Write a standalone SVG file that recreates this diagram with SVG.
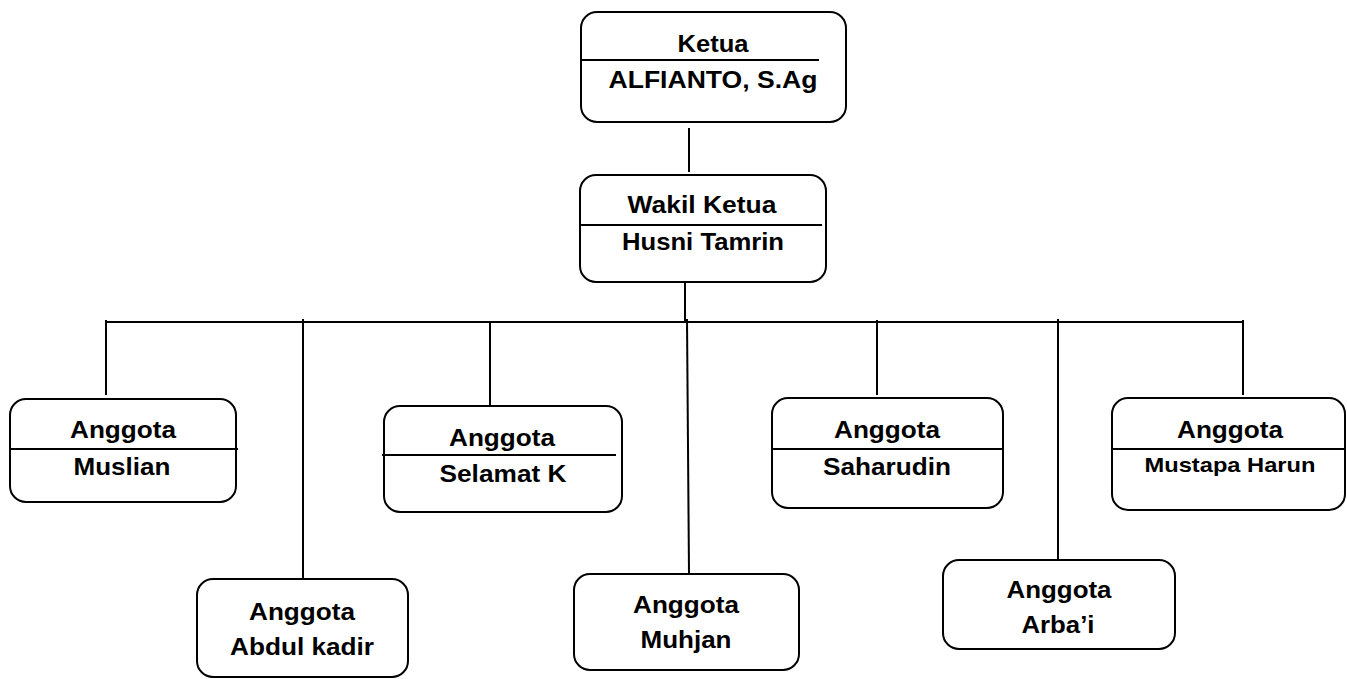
<svg xmlns="http://www.w3.org/2000/svg" width="1347" height="679" viewBox="0 0 1347 679">
<style>
.box{fill:#fff;stroke:#000;stroke-width:2}
.div{stroke:#000;stroke-width:2}
.con{stroke:#000;stroke-width:2;fill:none}
text{font-family:"Liberation Sans",Arial,sans-serif;font-weight:bold;fill:#000;text-anchor:middle}
.t{font-size:23px}
.s{font-size:21px}
</style>
<rect width="1347" height="679" fill="#fff"/>
<g id="connectors">
<line class="con" x1="689" y1="128" x2="689" y2="172"/>
<line class="con" x1="685" y1="278" x2="685" y2="323"/>
<line class="con" x1="105" y1="322" x2="1244" y2="322"/>
<line class="con" x1="106" y1="320" x2="106" y2="395"/>
<line class="con" x1="303" y1="319" x2="303" y2="579"/>
<line class="con" x1="490" y1="321" x2="490" y2="407"/>
<line class="con" x1="687" y1="319" x2="689" y2="574"/>
<line class="con" x1="877" y1="320" x2="877" y2="395"/>
<line class="con" x1="1058" y1="319" x2="1058" y2="560"/>
<line class="con" x1="1243" y1="320" x2="1243" y2="395"/>
</g>
<g id="ketua">
<rect class="box" x="581" y="12" width="265" height="110" rx="16"/>
<line class="div" x1="581" y1="60" x2="819" y2="60"/>
<text class="t" x="713" y="52" textLength="71" lengthAdjust="spacingAndGlyphs">Ketua</text>
<text class="t" x="713" y="88" textLength="209" lengthAdjust="spacingAndGlyphs">ALFIANTO, S.Ag</text>
</g>
<g id="wakil">
<rect class="box" x="580" y="175" width="246" height="107" rx="16"/>
<line class="div" x1="580" y1="225" x2="822" y2="225"/>
<text class="t" x="702" y="213" textLength="149" lengthAdjust="spacingAndGlyphs">Wakil Ketua</text>
<text class="t" x="703" y="250" textLength="162" lengthAdjust="spacingAndGlyphs">Husni Tamrin</text>
</g>
<g id="muslian">
<rect class="box" x="10" y="399" width="226" height="103" rx="16"/>
<line class="div" x1="10" y1="449" x2="238" y2="449"/>
<text class="t" x="123" y="438" textLength="106" lengthAdjust="spacingAndGlyphs">Anggota</text>
<text class="t" x="122" y="475" textLength="97" lengthAdjust="spacingAndGlyphs">Muslian</text>
</g>
<g id="abdul">
<rect class="box" x="197" y="579" width="211" height="98" rx="16"/>
<text class="t" x="302" y="620" textLength="106" lengthAdjust="spacingAndGlyphs">Anggota</text>
<text class="t" x="302" y="655" textLength="144" lengthAdjust="spacingAndGlyphs">Abdul kadir</text>
</g>
<g id="selamat">
<rect class="box" x="384" y="406" width="238" height="106" rx="16"/>
<line class="div" x1="382" y1="455" x2="616" y2="455"/>
<text class="t" x="502" y="446" textLength="106" lengthAdjust="spacingAndGlyphs">Anggota</text>
<text class="t" x="503" y="482" textLength="127" lengthAdjust="spacingAndGlyphs">Selamat K</text>
</g>
<g id="muhjan">
<rect class="box" x="574" y="574" width="225" height="96" rx="16"/>
<text class="t" x="686" y="613" textLength="106" lengthAdjust="spacingAndGlyphs">Anggota</text>
<text class="t" x="686" y="648" textLength="91" lengthAdjust="spacingAndGlyphs">Muhjan</text>
</g>
<g id="saharudin">
<rect class="box" x="772" y="398" width="231" height="110" rx="16"/>
<line class="div" x1="772" y1="449" x2="1003" y2="449"/>
<text class="t" x="887" y="438" textLength="106" lengthAdjust="spacingAndGlyphs">Anggota</text>
<text class="t" x="887" y="475" textLength="128" lengthAdjust="spacingAndGlyphs">Saharudin</text>
</g>
<g id="arbai">
<rect class="box" x="943" y="560" width="232" height="89" rx="16"/>
<text class="t" x="1059" y="598" textLength="105" lengthAdjust="spacingAndGlyphs">Anggota</text>
<text class="t" x="1058" y="633" textLength="73" lengthAdjust="spacingAndGlyphs">Arba’i</text>
</g>
<g id="mustapa">
<rect class="box" x="1112" y="398" width="233" height="112" rx="16"/>
<line class="div" x1="1112" y1="449" x2="1345" y2="449"/>
<text class="t" x="1230" y="438" textLength="106" lengthAdjust="spacingAndGlyphs">Anggota</text>
<text class="s" x="1230" y="472" textLength="171" lengthAdjust="spacingAndGlyphs">Mustapa Harun</text>
</g>
</svg>
